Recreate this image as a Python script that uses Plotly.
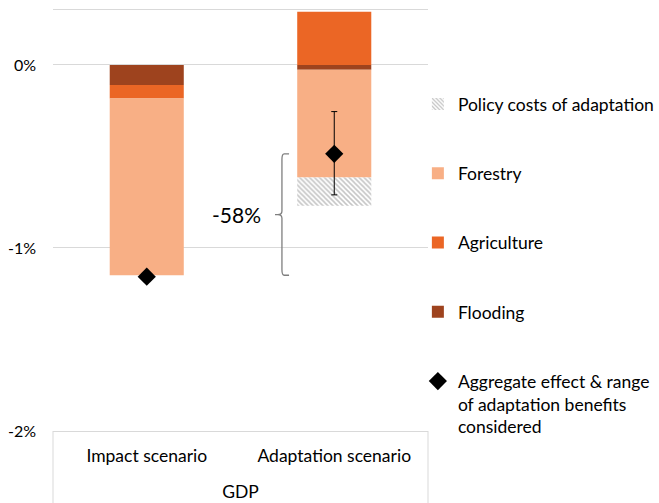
import plotly.graph_objects as go

categories = ["Impact scenario", "Adaptation scenario"]
flooding = [-0.11, -0.027]
agriculture = [-0.074, 0.29]
forestry = [-0.965, -0.588]
policy_costs = [0.0, -0.154]
aggregate = [-1.157, -0.486]
agg_err_plus = [0.0, 0.231]
agg_err_minus = [0.0, 0.224]
y_ticks = [0, -1, -2]
y_tick_labels = ["0%", "-1%", "-2%"]
bracket_label = "-58%"

FONT = "Lato"
xpos = [0.5, 1.5]

fig = go.Figure()
bar_w = 0.395
fig.add_trace(go.Bar(x=xpos, y=flooding, name="Flooding", width=bar_w,
                     marker=dict(color="#9E431E", line=dict(width=0)),
                     legendrank=4, legendgroup="d"))
fig.add_trace(go.Bar(x=xpos, y=agriculture, name="Agriculture", width=bar_w,
                     marker=dict(color="#EB6625", line=dict(width=0)),
                     legendrank=3, legendgroup="c"))
fig.add_trace(go.Bar(x=xpos, y=forestry, name="Forestry", width=bar_w,
                     marker=dict(color="#F8AF85", line=dict(width=0)),
                     legendrank=2, legendgroup="b"))
fig.add_trace(go.Bar(x=xpos, y=policy_costs, name="Policy costs of adaptation", width=bar_w,
                     marker=dict(color="white", line=dict(width=0),
                                 pattern=dict(shape="\\", fgcolor="#8C8C8C", bgcolor="white",
                                              size=3.5, solidity=0.45)),
                     legendrank=1, legendgroup="a"))
fig.add_trace(go.Scatter(x=[xpos[0]], y=[aggregate[0]], mode="markers",
                         marker=dict(symbol="diamond", size=14, color="black"),
                         showlegend=False, hoverinfo="skip"))
fig.add_trace(go.Scatter(x=[xpos[1]], y=[aggregate[1]], mode="markers",
                         name="Aggregate effect & range<br>of adaptation benefits<br>considered",
                         marker=dict(symbol="diamond", size=14, color="black"),
                         error_y=dict(type="data", symmetric=False, array=[agg_err_plus[1]],
                                      arrayminus=[agg_err_minus[1]], color="black",
                                      thickness=1, width=3),
                         legendrank=5, legendgroup="e"))

# bracket between impact total and adaptation aggregate
top = aggregate[1]
bot = sum([flooding[0], agriculture[0], forestry[0]])
mid = (top + bot) / 2
bx = 1.221
hook = 1.259
tick = 1.184
r = 0.03
path = (f"M {hook},{top} L {bx+0.012},{top} Q {bx},{top} {bx},{top-r} "
        f"L {bx},{mid+0.02} Q {bx},{mid} {tick+0.015},{mid} L {tick},{mid} "
        f"M {tick+0.015},{mid} Q {bx},{mid} {bx},{mid-0.02} "
        f"L {bx},{bot+r} Q {bx},{bot} {bx+0.012},{bot} L {hook},{bot}")
fig.add_shape(type="path", path=path, xref="x", yref="y",
              line=dict(color="#7F7F7F", width=1.3))
fig.add_annotation(x=0.98, y=mid, xref="x", yref="y", text=bracket_label,
                   showarrow=False, font=dict(family=FONT, size=21, color="black"))

# category box lines below the axis
for xp in [0, 1]:
    fig.add_shape(type="line", xref="paper", yref="paper", x0=xp, x1=xp, y0=0, y1=-0.25,
                  line=dict(color="#D9D9D9", width=1))

fig.update_layout(
    width=659, height=503,
    margin=dict(l=53, r=231, t=10, b=72, autoexpand=False),
    paper_bgcolor="white", plot_bgcolor="white",
    barmode="relative",
    showlegend=True,
    font=dict(family=FONT, size=15, color="black"),
    legend=dict(x=0.973, xanchor="left", y=0.819, yanchor="top",
                traceorder="grouped", tracegroupgap=43.5, valign="top",
                font=dict(family=FONT, size=17.5, color="black"),
                bgcolor="rgba(0,0,0,0)"),
    xaxis=dict(range=[0, 2], tickvals=xpos, ticktext=categories, showgrid=False,
               zeroline=False, showline=True, mirror=True, linecolor="#D9D9D9", linewidth=1,
               ticks="", ticklabelstandoff=9, tickfont=dict(family=FONT, size=17.5),
               automargin=False,
               title=dict(text="GDP", standoff=20, font=dict(family=FONT, size=17.5))),
    yaxis=dict(range=[-2, 0.3], tickvals=y_ticks, ticktext=y_tick_labels, showgrid=True,
               gridcolor="#D9D9D9", gridwidth=1, zeroline=False, showline=False,
               automargin=False,
               ticks="", ticklabelstandoff=16, tickfont=dict(family=FONT, size=16)),
)

fig.write_html("out.html", config={"displayModeBar": False},
               post_script="document.body.style.margin='0px';document.body.style.overflow='hidden';")
